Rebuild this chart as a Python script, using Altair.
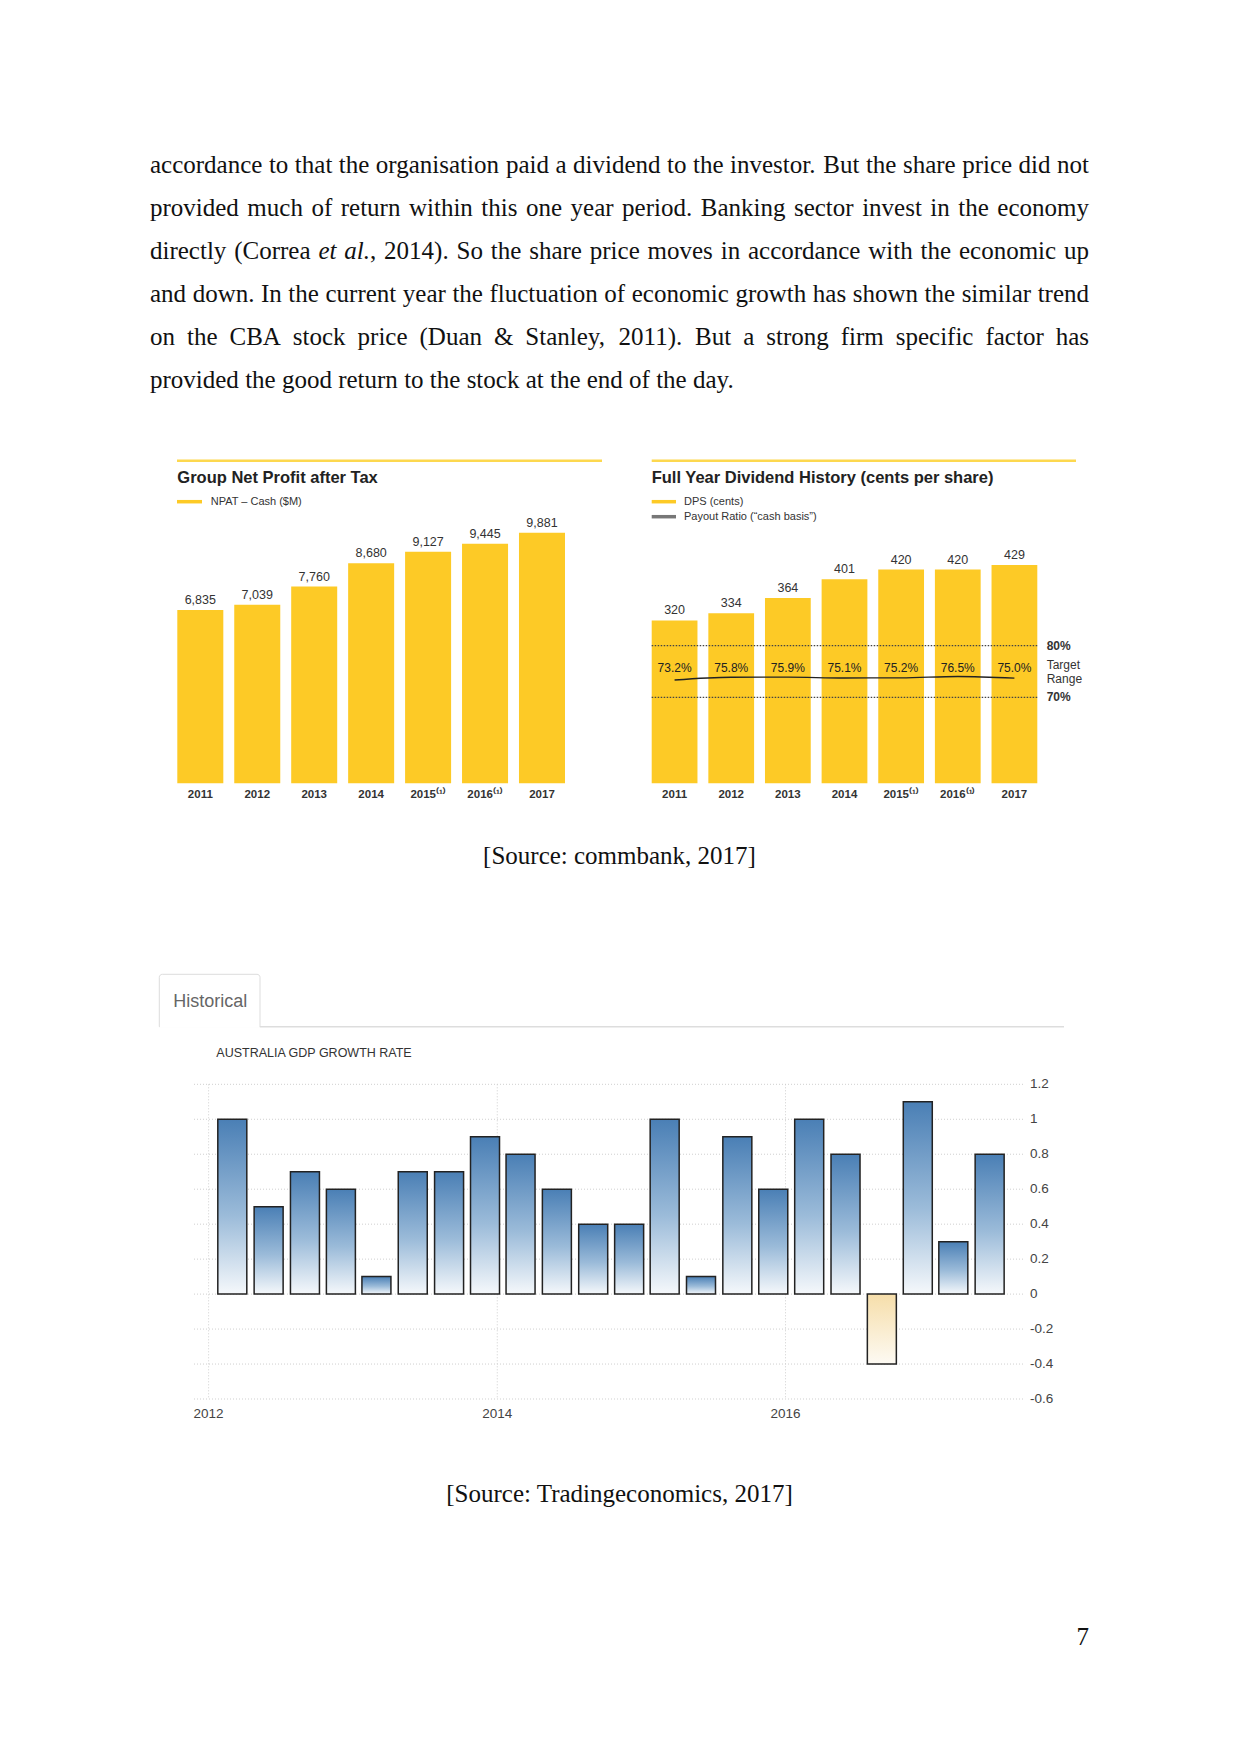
import altair as alt
import pandas as pd

# ---------------------------------------------------------------- data
PARAGRAPH = [
    "accordance to that the organisation paid a dividend to the investor. But the share price did not",
    "provided much of return within this one year period. Banking sector invest in the economy",
    "directly (Correa *et* *al.*, 2014). So the share price moves in accordance with the economic up",
    "and down. In the current year the fluctuation of economic growth has shown the similar trend",
    "on the CBA stock price (Duan & Stanley, 2011). But a strong firm specific factor has",
    "provided the good return to the stock at the end of the day.",
]
CAPTION_1 = "[Source: commbank, 2017]"
CAPTION_2 = "[Source: Tradingeconomics, 2017]"
PAGE_NUMBER = "7"

npat_title = "Group Net Profit after Tax"
npat_legend = "NPAT \u2013 Cash ($M)"
npat_years = ["2011", "2012", "2013", "2014", "2015\u207d\u00b9\u207e", "2016\u207d\u00b9\u207e", "2017"]
npat_values = [6835, 7039, 7760, 8680, 9127, 9445, 9881]

dps_title = "Full Year Dividend History (cents per share)"
dps_legend = ["DPS (cents)", "Payout Ratio (\u201ccash basis\u201d)"]
dps_years = ["2011", "2012", "2013", "2014", "2015\u207d\u00b9\u207e", "2016\u207d\u00b9\u207e", "2017"]
dps_values = [320, 334, 364, 401, 420, 420, 429]
payout_ratio = [73.2, 75.8, 75.9, 75.1, 75.2, 76.5, 75.0]
target_range = [80, 70]
target_labels = ["80%", "70%"]

gdp_title = "AUSTRALIA GDP GROWTH RATE"
gdp_tab = "Historical"
gdp_dates = [
    "2012/03/01", "2012/06/01", "2012/09/01", "2012/12/01",
    "2013/03/01", "2013/06/01", "2013/09/01", "2013/12/01",
    "2014/03/01", "2014/06/01", "2014/09/01", "2014/12/01",
    "2015/03/01", "2015/06/01", "2015/09/01", "2015/12/01",
    "2016/03/01", "2016/06/01", "2016/09/01", "2016/12/01",
    "2017/03/01", "2017/06/01",
]
gdp_growth = [1.0, 0.5, 0.7, 0.6, 0.1, 0.7, 0.7, 0.9, 0.8, 0.6, 0.4,
              0.4, 1.0, 0.1, 0.9, 0.6, 1.0, 0.8, -0.4, 1.1, 0.3, 0.8]
gdp_y_ticks = [1.2, 1.0, 0.8, 0.6, 0.4, 0.2, 0.0, -0.2, -0.4, -0.6]
gdp_y_labels = ["1.2", "1", "0.8", "0.6", "0.4", "0.2", "0", "-0.2", "-0.4", "-0.6"]
gdp_x_ticks = ["2012/01/01", "2014/01/01", "2016/01/01"]
gdp_x_labels = ["2012", "2014", "2016"]

# ---------------------------------------------------------------- style
SERIF = "Liberation Serif"
SANS = "Liberation Sans"
YELLOW = "#fdca26"
BODY = 25.0
LEFT, RIGHT = 150.0, 1089.0

# Times metrics (per 1000 em) used to justify the paragraph lines
_TW = {' ': 250, '(': 333, ')': 333, ',': 250, '.': 250, '&': 778, '0': 500, '1': 500, '2': 500,
       '3': 500, '4': 500, '5': 500, '6': 500, '7': 500, '8': 500, '9': 500, ':': 278,
       'A': 722, 'B': 667, 'C': 667, 'D': 722, 'E': 611, 'F': 556, 'G': 722, 'H': 722, 'I': 333,
       'J': 389, 'K': 722, 'L': 611, 'M': 889, 'N': 722, 'O': 722, 'P': 556, 'Q': 722, 'R': 667,
       'S': 556, 'T': 611, 'U': 722, 'V': 722, 'W': 944, 'X': 722, 'Y': 722, 'Z': 611,
       'a': 444, 'b': 500, 'c': 444, 'd': 500, 'e': 444, 'f': 333, 'g': 500, 'h': 500, 'i': 278,
       'j': 278, 'k': 500, 'l': 278, 'm': 778, 'n': 500, 'o': 500, 'p': 500, 'q': 500, 'r': 333,
       's': 389, 't': 278, 'u': 500, 'v': 500, 'w': 722, 'x': 500, 'y': 500, 'z': 444}
_TW_IT = {'e': 444, 't': 278, 'a': 500, 'l': 278, '.': 250}


def text_w(s, italic=False):
    table = _TW_IT if italic else _TW
    return sum(table.get(ch, _TW.get(ch, 500)) for ch in s) / 1000.0 * BODY


def text_rows(rows, **props):
    df = pd.DataFrame(rows, columns=["px", "py", "t"])
    return alt.Chart(df).mark_text(**props).encode(
        x=alt.X("px:Q", scale=None, axis=None),
        y=alt.Y("py:Q", scale=None, axis=None),
        text="t:N",
    )


def value_rule(x1, x2, y, **props):
    return alt.Chart(pd.DataFrame({"k": [0]})).mark_rule(**props).encode(
        x=alt.value(x1), x2=alt.value(x2), y=alt.value(y))


layers = []

# ---------------------------------------------------------------- paragraph
rows_reg, rows_it = [], []
for li, line in enumerate(PARAGRAPH):
    words = []
    for w in line.split(" "):
        parts = w.split("*")
        words.append([(p, i % 2 == 1) for i, p in enumerate(parts) if p])
    widths = [sum(text_w(s, it) for s, it in segs) for segs in words]
    if li < len(PARAGRAPH) - 1:
        gap = (RIGHT - LEFT - sum(widths)) / (len(words) - 1)
    else:
        gap = 0.25 * BODY
    x = LEFT
    y = 172.5 + 43.0 * li
    for segs, ww in zip(words, widths):
        sx = x
        for s, it in segs:
            (rows_it if it else rows_reg).append((sx, y, s))
            sx += text_w(s, it)
        x += ww + gap

body_props = dict(align="left", baseline="alphabetic", font=SERIF, fontSize=BODY, color="#111")
layers.append(text_rows(rows_reg, **body_props))
layers.append(text_rows(rows_it, fontStyle="italic", **body_props))
layers.append(text_rows([(619.5, 863.5, CAPTION_1), (619.5, 1502.0, CAPTION_2)],
                        align="center", baseline="alphabetic", font=SERIF, fontSize=BODY, color="#111"))
layers.append(text_rows([(1089.0, 1645.0, PAGE_NUMBER)],
                        align="right", baseline="alphabetic", font=SERIF, fontSize=BODY, color="#111"))

# ---------------------------------------------------------------- chart 1: NPAT
npat_df = pd.DataFrame({"year": npat_years, "value": npat_values,
                        "label": [f"{v:,}" for v in npat_values]})
x1 = alt.X("year:N", sort=None, axis=None,
           scale=alt.Scale(domain=npat_years, range=[177.3, 565.0], paddingInner=0.192, paddingOuter=0))
y1 = alt.Y("value:Q", axis=None,
           scale=alt.Scale(domain=[0, 10000], range=[783.3, 529.7], nice=False, padding=0))
chart1 = alt.layer(
    alt.Chart(npat_df).mark_bar(color=YELLOW).encode(x=x1, y=y1),
    alt.Chart(npat_df).mark_text(baseline="middle", dy=-10, font=SANS, fontSize=12.5, color="#333")
    .encode(x=x1, y=y1, text="label:N"),
    alt.Chart(npat_df).mark_text(baseline="middle", font=SANS, fontSize=11.5, fontWeight="bold", color="#333")
    .encode(x=x1, y=alt.value(795), text="year:N"),
)
layers.append(chart1)
layers.append(value_rule(177.0, 602.0, 460.7, color="#fdd84f", strokeWidth=2.5))
layers.append(value_rule(177.0, 202.0, 501.7, color=YELLOW, strokeWidth=3.5))
layers.append(text_rows([(177.3, 483.3, npat_title), (651.7, 483.3, dps_title)],
                        align="left", baseline="alphabetic", font=SANS, fontSize=16.5,
                        fontWeight="bold", color="#222"))
layers.append(text_rows([(210.7, 501.7, npat_legend), (684.0, 501.7, dps_legend[0]),
                         (684.0, 516.7, dps_legend[1])],
                        align="left", baseline="middle", font=SANS, fontSize=11, color="#333"))

# ---------------------------------------------------------------- chart 2: DPS
dps_df = pd.DataFrame({"year": dps_years, "dps": dps_values, "payout": payout_ratio,
                       "plabel": [f"{p:.1f}%" for p in payout_ratio]})
x2 = alt.X("year:N", sort=None, axis=None,
           scale=alt.Scale(domain=dps_years, range=[651.7, 1037.3], paddingInner=0.192, paddingOuter=0))
y2 = alt.Y("dps:Q", axis=None,
           scale=alt.Scale(domain=[0, 450], range=[783.3, 554.3], nice=False, padding=0))
pct_scale = alt.Scale(domain=[70, 80], range=[697.3, 645.7], nice=False, padding=0)
# payout-ratio line drawn on its own compressed axis, as in the original slide
ratio_scale = alt.Scale(domain=[70, 80], range=[683.4, 672.8], nice=False, zero=False, padding=0)
target_df = pd.DataFrame({"pct": target_range, "label": target_labels})
chart2 = alt.layer(
    alt.Chart(dps_df).mark_bar(color=YELLOW).encode(x=x2, y=y2),
    alt.Chart(dps_df).mark_text(baseline="middle", dy=-10, font=SANS, fontSize=12.5, color="#333")
    .encode(x=x2, y=y2, text="dps:N"),
    alt.Chart(dps_df).mark_text(baseline="middle", font=SANS, fontSize=11.5, fontWeight="bold", color="#333")
    .encode(x=x2, y=alt.value(795), text="year:N"),
    alt.Chart(dps_df).mark_text(baseline="middle", font=SANS, fontSize=12, color="#222")
    .encode(x=x2, y=alt.value(668.3), text="plabel:N"),
    alt.layer(
        alt.Chart(target_df).mark_rule(strokeDash=[1.5, 1.5], color="#444", strokeWidth=1.2)
        .encode(y=alt.Y("pct:Q", scale=pct_scale, axis=None), x=alt.value(651.7), x2=alt.value(1038.3)),
        alt.Chart(target_df).mark_text(align="left", baseline="middle", font=SANS, fontSize=12,
                                       fontWeight="bold", color="#333")
        .encode(y=alt.Y("pct:Q", scale=pct_scale, axis=None), x=alt.value(1046.7), text="label:N"),
    ),
    alt.Chart(dps_df).mark_line(color="#222", strokeWidth=1.3, interpolate="monotone")
    .encode(x=x2, y=alt.Y("payout:Q", scale=ratio_scale, axis=None)),
).resolve_scale(y="independent")
layers.append(chart2)
layers.append(value_rule(651.7, 1076.0, 460.7, color="#fdd84f", strokeWidth=2.5))
layers.append(value_rule(651.7, 676.0, 501.7, color=YELLOW, strokeWidth=3.5))
layers.append(value_rule(651.7, 676.0, 516.7, color="#777777", strokeWidth=3.5))
layers.append(text_rows([(1046.7, 665.0, "Target"), (1046.7, 679.3, "Range")],
                        align="left", baseline="middle", font=SANS, fontSize=12, color="#333"))

# ---------------------------------------------------------------- chart 3: GDP
tab = alt.Chart(pd.DataFrame({"k": [0]})).mark_rect(
    fill="white", stroke="#dddddd", strokeWidth=1, cornerRadiusTopLeft=3, cornerRadiusTopRight=3
).encode(x=alt.value(159.3), x2=alt.value(260.0), y=alt.value(974.3), y2=alt.value(1026.7))
layers.append(tab)
layers.append(value_rule(160.0, 259.4, 1026.7, color="white", strokeWidth=2))
layers.append(value_rule(260.0, 1064.0, 1026.7, color="#dddddd", strokeWidth=1.5))
layers.append(text_rows([(173.3, 1001.7, gdp_tab)], align="left", baseline="middle",
                        font=SANS, fontSize=18, color="#666"))
layers.append(text_rows([(216.3, 1052.7, gdp_title)], align="left", baseline="middle",
                        font=SANS, fontSize=12.5, color="#333"))

gdp_df = pd.DataFrame({"date": gdp_dates, "growth": gdp_growth})
ygrid_df = pd.DataFrame({"tick": gdp_y_ticks, "label": gdp_y_labels})
xgrid_df = pd.DataFrame({"date": gdp_x_ticks, "label": gdp_x_labels})
x3s = alt.Scale(domain=[alt.DateTime(year=2011, month=11, date=25),
                        alt.DateTime(year=2017, month=8, date=27)],
                range=[194.0, 1024.0], nice=False, padding=0)
y3s = alt.Scale(domain=[-0.6, 1.2], range=[1399.0, 1084.3], nice=False, padding=0)
x3 = alt.X("date:T", scale=x3s, axis=None)

BLUE_GRAD = alt.LinearGradient(
    gradient="linear", x1=0, x2=0, y1=0, y2=1,
    stops=[alt.GradientStop(color="#4a7fb5", offset=0),
           alt.GradientStop(color="#9bbbd9", offset=0.55),
           alt.GradientStop(color="#f5f8fb", offset=1)])
TAN_GRAD = alt.LinearGradient(
    gradient="linear", x1=0, x2=0, y1=0, y2=1,
    stops=[alt.GradientStop(color="#f6deaa", offset=0),
           alt.GradientStop(color="#fdfaf3", offset=1)])

grid_props = dict(color="#cfcfcf", strokeDash=[1, 2], strokeWidth=1)
chart3 = alt.layer(
    alt.Chart(ygrid_df).mark_rule(**grid_props)
    .encode(y=alt.Y("tick:Q", scale=y3s, axis=None), x=alt.value(194.0), x2=alt.value(1024.0)),
    alt.Chart(xgrid_df).mark_rule(**grid_props)
    .encode(x=x3, y=alt.value(1084.3), y2=alt.value(1399.0)),
    alt.Chart(gdp_df).transform_filter("datum.growth >= 0")
    .mark_bar(width=29, fill=BLUE_GRAD, stroke="#222", strokeWidth=1.5)
    .encode(x=x3, y=alt.Y("growth:Q", scale=y3s, axis=None), y2=alt.datum(0)),
    alt.Chart(gdp_df).transform_filter("datum.growth < 0")
    .mark_bar(width=29, fill=TAN_GRAD, stroke="#222", strokeWidth=1.5)
    .encode(x=x3, y=alt.Y("growth:Q", scale=y3s, axis=None), y2=alt.datum(0)),
    alt.Chart(ygrid_df).mark_text(align="left", baseline="middle", font=SANS, fontSize=13.5, color="#444")
    .encode(y=alt.Y("tick:Q", scale=y3s, axis=None), x=alt.value(1030.0), text="label:N"),
    alt.Chart(xgrid_df).mark_text(align="center", baseline="middle", font=SANS, fontSize=13.5, color="#444")
    .encode(x=x3, y=alt.value(1414.0), text="label:N"),
)
layers.append(chart3)

# ---------------------------------------------------------------- page
chart = alt.layer(*layers).resolve_scale(x="independent", y="independent").properties(
    width=1241, height=1754, padding=0, background="white",
    autosize=alt.AutoSizeParams(type="none"),
).configure_view(stroke=None)

chart.save("out.html", embed_options={"renderer": "svg", "actions": False})
